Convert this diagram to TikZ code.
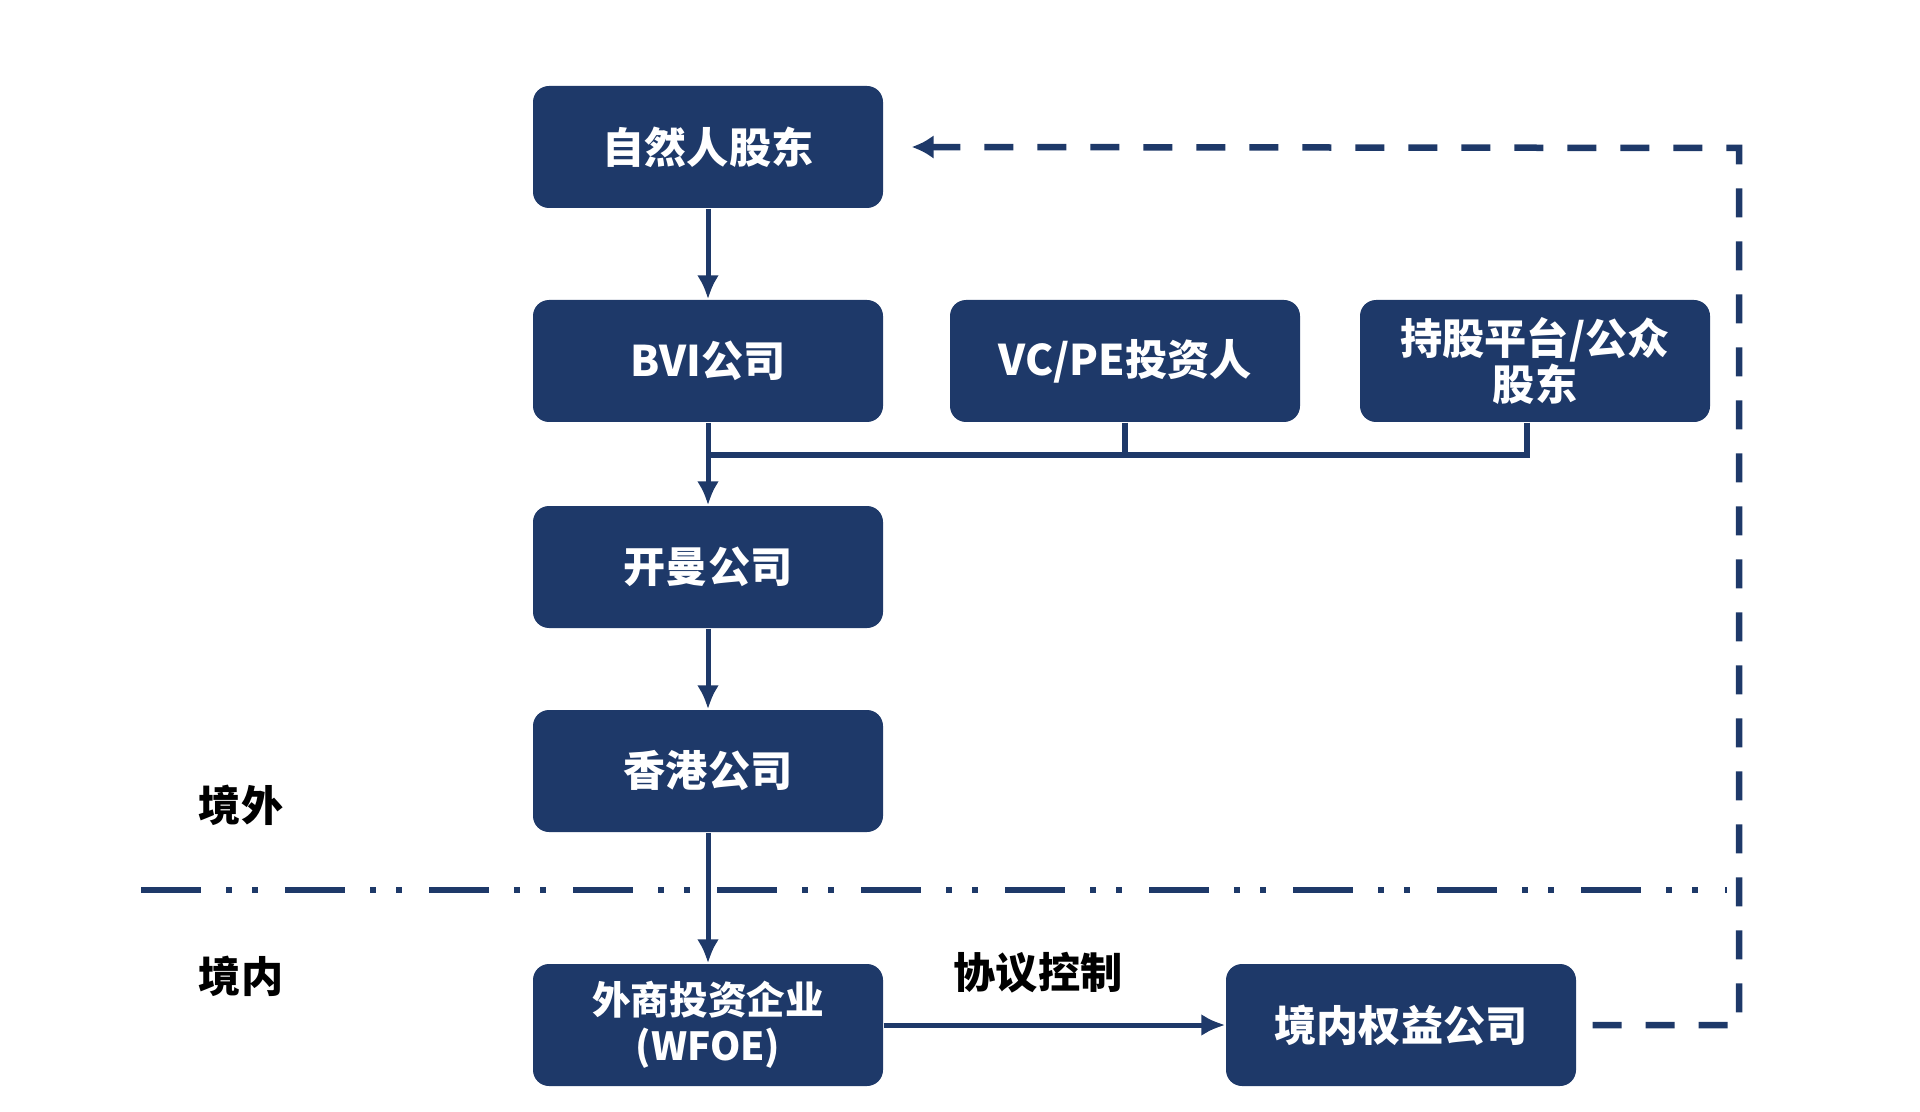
\documentclass[tikz,border=0pt]{standalone}
\usepackage{fontspec}
\setmainfont{Noto Sans CJK SC}
\usetikzlibrary{arrows.meta,positioning,calc}
\definecolor{navy}{RGB}{30,57,105}

\begin{document}
\begin{tikzpicture}[
  box/.style={fill=navy, draw=none, rounded corners=0.16cm, minimum width=3.5cm, minimum height=1.22cm,
    text=white, font=\fontsize{12}{13}\selectfont\bfseries, align=center, inner sep=0pt},
  link/.style={navy, line width=0.05cm, -{Latex[length=0.24cm,width=0.22cm]}},
  bus/.style={navy, line width=0.065cm},
  ret/.style={navy, line width=0.065cm, dash pattern=on 0.29cm off 0.24cm, -{Latex[length=0.22cm,width=0.24cm]}},
  border/.style={navy, line width=0.065cm, dash pattern=on 0.6cm off 0.25cm on 0.06cm off 0.2cm on 0.06cm off 0.27cm},
  side/.style={font=\fontsize{12}{13}\selectfont\bfseries, text=black}
]
\useasboundingbox (0,0) rectangle (19.2,-11.12);
% left column
\foreach \n/\y/\t in {nat/1.47/自然人股东,bvi/3.61/BVI公司,cay/5.67/开曼公司,hk/7.71/香港公司} {
  \node[box] (\n) at (7.08,-\y) {\t};
}
\node[box, font=\fontsize{11}{13}\selectfont\bfseries] (wfoe) at (7.08,-10.25) {外商投资企业\\(WFOE)};
\node[box] (vc) at (11.25,-3.61) {VC/PE投资人};
\node[box] (plat) at (15.35,-3.61) {持股平台/公众\\股东};
\node[box] (dom) at (14.01,-10.25) {境内权益公司};
% labels
\node[side] (out) at (2.41,-8.05) {境外};
\node[side] (in) at (2.41,-9.76) {境内};
\node[side] (vie) at (10.38,-9.73) {协议控制};
% boundary
\coordinate (bl) at (1.41,-8.9);
\coordinate (br) at (17.27,-8.9);
\draw[border] (bl) -- (br);
% holdings
\coordinate (join) at (7.08,-4.55);
\draw[link] (nat) -- (bvi);
\draw[link] (bvi) -- (cay);
\draw[bus] (vc.south) |- (join);
\draw[bus] ([xshift=-0.08cm]plat.south) |- (join);
\draw[link] (cay) -- (hk);
\draw[link] (hk) -- (wfoe);
\draw[link] (wfoe) -- (dom);
% control back to founders
\coordinate (rt) at (17.39,-1.48);
\draw[ret] ([xshift=0.16cm]dom.east) -| (rt) -- ([xshift=0.28cm]nat.east);
\end{tikzpicture}
\end{document}
